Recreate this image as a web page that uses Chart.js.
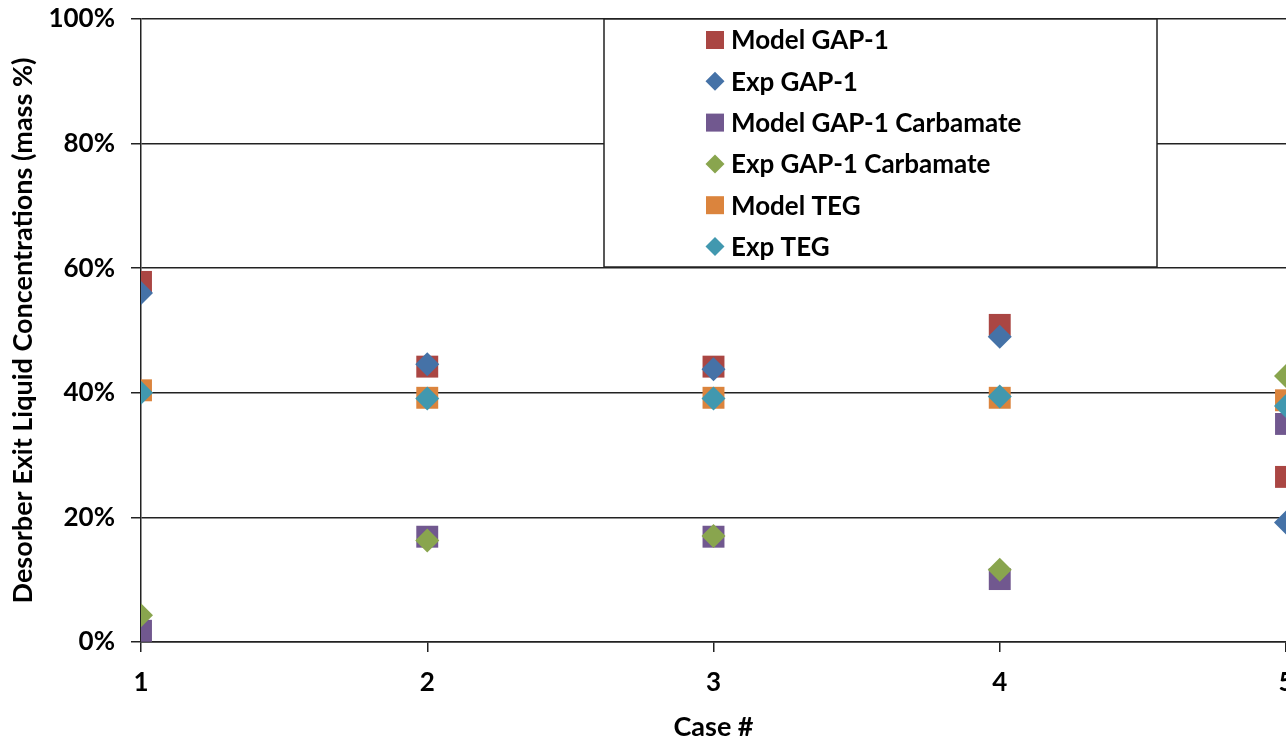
<!DOCTYPE html>
<html>
<head>
<meta charset="utf-8">
<script src="https://cdn.jsdelivr.net/npm/chart.js@4.4.1/dist/chart.umd.min.js"></script>
<style>
  html, body { margin: 0; padding: 0; background: #fff; overflow: hidden; }
  canvas { display: block; }
</style>
</head>
<body>
<canvas id="chart" width="1286" height="737"></canvas>
<script>
// case numbers and desorber exit concentrations (mass %)
const cases = [1, 2, 3, 4, 5];
const modelGap1 = [57.8, 44.2, 44.2, 50.9, 26.5];
const expGap1 = [56.0, 44.6, 43.8, 49.0, 19.2];
const modelCarbamate = [1.8, 16.9, 16.9, 10.1, 35.0];
const expCarbamate = [4.3, 16.3, 17.0, 11.6, 42.7];
const modelTeg = [40.4, 39.2, 39.2, 39.2, 38.8];
const expTeg = [40.0, 39.1, 39.1, 39.4, 37.9];
const yTicks = [0, 20, 40, 60, 80, 100];

const FONT = 'Lato, "Open Sans", sans-serif';

function pts(vals){ return cases.map((c, i) => ({x: c, y: vals[i]})); }

function series(label, vals, color, isModel){
  return {
    label, data: pts(vals),
    backgroundColor: color, borderColor: color, borderWidth: 0,
    pointStyle: isModel ? 'rect' : 'rectRot',
    pointRadius: isModel ? 15.5 : 12,
    pointHoverRadius: isModel ? 15.5 : 12,
    showLine: false,
    order: isModel ? 1 : 0 // diamonds on top
  };
}

const datasets = [
  series('Model GAP-1', modelGap1, '#AA4643', true),
  series('Exp GAP-1', expGap1, '#4572A7', false),
  series('Model GAP-1 Carbamate', modelCarbamate, '#71588F', true),
  series('Exp GAP-1 Carbamate', expCarbamate, '#89A54E', false),
  series('Model TEG', modelTeg, '#DB843D', true),
  series('Exp TEG', expTeg, '#4198AF', false)
];

// boxed legend sitting over the plot, like the original
const legendBox = {
  id: 'legendBox',
  afterDraw(chart){
    const ctx = chart.ctx;
    const x0 = 604, y0 = 19, x1 = 1157, y1 = 267;
    ctx.save();
    ctx.fillStyle = '#fff';
    ctx.fillRect(x0, y0, x1 - x0, y1 - y0);
    ctx.strokeStyle = '#222'; ctx.lineWidth = 1.5;
    ctx.strokeRect(x0, y0, x1 - x0, y1 - y0);
    ctx.font = 'bold 26px ' + FONT;
    ctx.textBaseline = 'middle';
    ctx.textAlign = 'left';
    chart.data.datasets.forEach((ds, i) => {
      const cy = 40 + i * 41.3, cx = 715;
      ctx.fillStyle = ds.backgroundColor;
      ctx.beginPath();
      if(ds.pointStyle === 'rect') ctx.rect(cx - 9, cy - 9, 18, 18);
      else { ctx.moveTo(cx, cy - 9.5); ctx.lineTo(cx + 9.5, cy); ctx.lineTo(cx, cy + 9.5); ctx.lineTo(cx - 9.5, cy); ctx.closePath(); }
      ctx.fill();
      ctx.fillStyle = '#000';
      ctx.fillText(ds.label, 731, cy + 1);
    });
    ctx.restore();
  }
};

new Chart(document.getElementById('chart'), {
  type: 'scatter',
  data: { datasets },
  plugins: [legendBox],
  options: {
    responsive: false, animation: false,
    layout: { autoPadding: false, padding: { top: 19, left: 0, right: 0, bottom: 0 } },
    plugins: { legend: { display: false }, tooltip: { enabled: false } },
    scales: {
      x: {
        type: 'linear', min: 1, max: 5,
        afterFit(s){ s.height = 95; s.paddingLeft = 0; s.paddingRight = 0; },
        grid: { drawOnChartArea: false, drawTicks: true, tickLength: 10, color: '#222', lineWidth: 1.5 },
        border: { display: true, color: '#222', width: 1.5 },
        ticks: { stepSize: 1, padding: 15, color: '#000', font: { family: FONT, size: 26, weight: 'bold' } },
        title: { display: true, text: 'Case #', color: '#000', padding: { top: 0, bottom: 0 },
                 font: { family: FONT, size: 27, weight: 'bold', lineHeight: 0.75 } }
      },
      y: {
        min: 0, max: 100,
        afterFit(s){ s.width = 141; s.paddingTop = 0; s.paddingBottom = 0; },
        afterBuildTicks(s){ s.ticks = yTicks.map(v => ({value: v})); },
        grid: { drawTicks: true, tickLength: 10, color: '#222', lineWidth: 1.5 },
        border: { display: true, color: '#222', width: 1.5 },
        ticks: { padding: 16, color: '#000', font: { family: FONT, size: 26, weight: 'bold' },
                 callback: v => v + '%' },
        title: { display: true, text: 'Desorber Exit Liquid Concentrations (mass %)', color: '#000',
                 padding: { top: 7, bottom: 0 }, font: { family: FONT, size: 27, weight: 'bold' } }
      }
    }
  }
});
</script>
</body>
</html>
